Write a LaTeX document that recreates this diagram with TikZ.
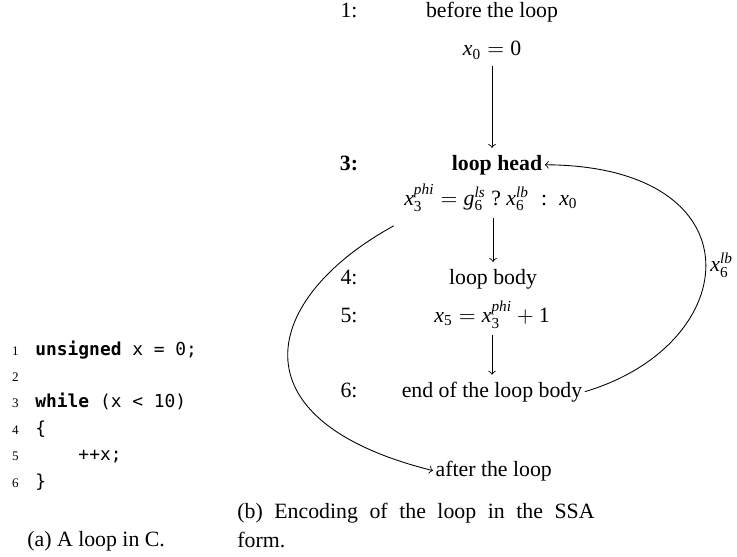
\documentclass[tikz,border=0pt]{standalone}
\usepackage{amsmath}
\usepackage{fontspec}
\setmainfont{Liberation Serif}
\setmonofont{DejaVu Sans Mono}
\usepackage{tikz}
\usetikzlibrary{positioning}
\newcommand{\SSAvar}[3]{\textit{#1}_{\text{#2}}^{\textit{#3\/}}}
\tikzset{
  Stmt/.style={anchor=base, inner sep=1pt, font=\fontsize{10}{12}\selectfont}, % Zeilen im SSA-Teil
  Nr/.style={Stmt}, % Zeilennummern SSA
  Code/.style={anchor=base west, inner sep=0pt, font=\fontsize{8.2}{10}\ttfamily}, % C-Code
  LNr/.style={anchor=base east, inner sep=0pt, font=\fontsize{6}{7}\selectfont}, % Zeilennummern C
  Cap/.style={inner sep=0pt, font=\fontsize{10}{13.3}\selectfont}, % Unterschriften
  Flow/.style={->, shorten <=#1, shorten >=#1}, % Kontrollfluss
  Flow/.default=2pt
}

\begin{document}
\begin{tikzpicture}[x=0.4587pt, y=-0.4587pt, >=to]
\useasboundingbox (0,0) rectangle (737,556);

%C-Programm
\foreach \i/\y in {1/355,2/381.4,3/407.8,4/434.2,5/460.6,6/487}
  \node[LNr] (l\i) at (19,\y) {\i};
\node[Code] (c1) at (35,355) {\textbf{unsigned} x = 0;};
\node[Code] (c3) at (35,407.8) {\textbf{while} (x < 10)};
\node[Code] (c4) at (35,434.2) {\{};
\node[Code] (c5) at (35,460.6) {\hphantom{xxxx}++x;};
\node[Code] (c6) at (35,487) {\}};

%SSA-Form
\node[Nr] (n1) at (349,18) {1:};
\node[Stmt] (before) at (492,18) {before the loop};
\node[Stmt] (x0) at (492,56) {$\textit{x}_{\text{0}} = \text{0}$};
\node[Nr] (n3) at (349,170) {\textbf{3:}};
\node[Stmt] (head) at (497,170) {\textbf{loop head}};
\node[Stmt] (phi) at (491,205)
  {$\SSAvar{x}{3}{phi} = \SSAvar{g}{6}{ls}\ \text{?}\ \SSAvar{x}{6}{lb}\;\;\text{:}\;\;\textit{x}_{\text{0}}$};
\node[Nr] (n4) at (349,284) {4:};
\node[Stmt] (body) at (493,284) {loop body};
\node[Nr] (n5) at (349,322) {5:};
\node[Stmt] (x5) at (492,322) {$\textit{x}_{\text{5}} = \SSAvar{x}{3}{phi} + \text{1}$};
\node[Nr] (n6) at (349,397) {6:};
\node[Stmt] (end) at (492,397) {end of the loop body};
\node[Stmt, anchor=base west] (after) at (433,476) {after the loop};

%Kanten
\draw[Flow] (x0.south) -- (x0.south |- head.north);
\draw[Flow] (body.north |- phi.south) -- (body.north);
\draw[Flow] (x5.south) -- (x5.south |- end.north);
\draw[->] (end.east) .. controls (745,344) and (760,166) ..
  node[right, inner sep=2pt, yshift=-2pt] {$\SSAvar{x}{6}{lb}$} (head.east);
\draw[->] ([shift={(-8,12)}]phi.south west) .. controls (262,298) and (230,420) .. (after.west);

%Unterschriften
\node[Cap, anchor=base west] (capA) at (27,546) {(a) A loop in C.};
\node[Cap, anchor=north west, text width=163.8pt, align=justify] (capB) at (237,503)
  {(b) Encoding of the loop in the SSA\linebreak form.};
\end{tikzpicture}
\end{document}
